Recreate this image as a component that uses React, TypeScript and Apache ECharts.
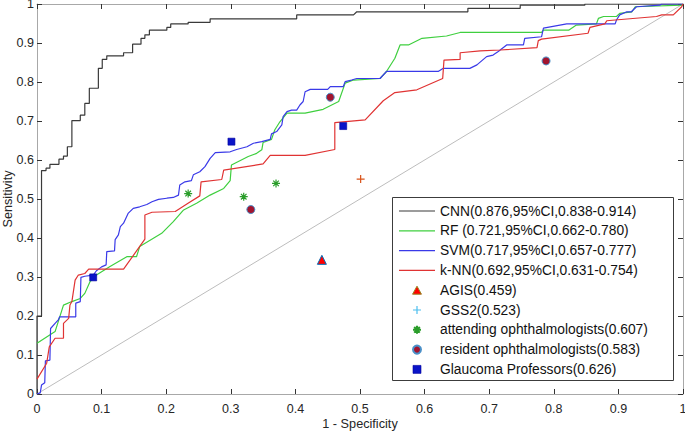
import React, { useEffect, useRef } from "react";
import * as echarts from "echarts";

const FONT = "'Liberation Sans', Arial, Helvetica, sans-serif";

const seriesNames = [
  "CNN(0.876,95%CI,0.838-0.914)",
  "RF (0.721,95%CI,0.662-0.780)",
  "SVM(0.717,95%CI,0.657-0.777)",
  "k-NN(0.692,95%CI,0.631-0.754)",
  "AGIS(0.459)",
  "GSS2(0.523)",
  "attending ophthalmologists(0.607)",
  "resident ophthalmologists(0.583)",
  "Glaucoma Professors(0.626)",
];

const cnnRoc = [
  [0, 0], [0, 0.2], [0.007, 0.2], [0.007, 0.573], [0.014, 0.573], [0.014, 0.579], [0.02, 0.579],
  [0.02, 0.589], [0.034, 0.589], [0.034, 0.602], [0.041, 0.602], [0.041, 0.61], [0.047, 0.61],
  [0.047, 0.634], [0.054, 0.634], [0.054, 0.701], [0.067, 0.701], [0.067, 0.715], [0.074, 0.715],
  [0.074, 0.745], [0.081, 0.745], [0.081, 0.784], [0.095, 0.784], [0.095, 0.835], [0.101, 0.835],
  [0.101, 0.858], [0.108, 0.858], [0.108, 0.867], [0.134, 0.867], [0.134, 0.875], [0.148, 0.875],
  [0.148, 0.897], [0.161, 0.897], [0.161, 0.912], [0.167, 0.912], [0.167, 0.921], [0.174, 0.921],
  [0.174, 0.933], [0.201, 0.933], [0.201, 0.94], [0.207, 0.94], [0.207, 0.949], [0.234, 0.949],
  [0.234, 0.953], [0.268, 0.953], [0.268, 0.962], [0.402, 0.962], [0.402, 0.972], [0.49, 0.972],
  [0.495, 0.98], [0.667, 0.98], [0.667, 0.989], [0.748, 0.989], [0.748, 0.997], [0.848, 0.997],
  [0.848, 1], [1, 1],
];

const rfRoc = [
  [0, 0.13], [0.028, 0.16], [0.041, 0.228], [0.054, 0.237], [0.067, 0.245], [0.074, 0.258],
  [0.082, 0.288], [0.092, 0.305], [0.113, 0.327], [0.139, 0.352], [0.154, 0.352], [0.159, 0.378],
  [0.193, 0.412], [0.211, 0.442], [0.227, 0.472], [0.247, 0.489], [0.268, 0.51], [0.289, 0.527],
  [0.299, 0.547], [0.301, 0.587], [0.327, 0.609], [0.34, 0.617], [0.348, 0.626], [0.35, 0.645],
  [0.363, 0.653], [0.368, 0.677], [0.376, 0.698], [0.387, 0.72], [0.415, 0.72], [0.443, 0.73],
  [0.467, 0.75], [0.477, 0.797], [0.49, 0.805], [0.531, 0.809], [0.541, 0.827], [0.554, 0.861],
  [0.562, 0.895], [0.575, 0.895], [0.596, 0.912], [0.634, 0.918], [0.655, 0.927], [0.781, 0.927],
  [0.784, 0.933], [0.823, 0.933], [0.835, 0.946], [0.866, 0.949], [0.869, 0.963], [0.877, 0.968],
  [0.897, 0.968], [0.902, 0.976], [0.921, 0.98], [0.926, 0.993], [0.998, 0.997], [1, 1],
];

const svmRoc = [
  [0, 0], [0.005, 0.003], [0.007, 0.023], [0.012, 0.029], [0.013, 0.085], [0.02, 0.087],
  [0.021, 0.168], [0.028, 0.181], [0.033, 0.19], [0.035, 0.198], [0.06, 0.198], [0.06, 0.233],
  [0.067, 0.237], [0.068, 0.299], [0.074, 0.302], [0.087, 0.305], [0.092, 0.316], [0.1, 0.326],
  [0.107, 0.331], [0.108, 0.365], [0.12, 0.367], [0.121, 0.396], [0.126, 0.408], [0.129, 0.429],
  [0.134, 0.438], [0.141, 0.463], [0.149, 0.476], [0.159, 0.48], [0.17, 0.486], [0.178, 0.493],
  [0.188, 0.499], [0.201, 0.502], [0.211, 0.504], [0.219, 0.51], [0.221, 0.536], [0.229, 0.544],
  [0.239, 0.547], [0.242, 0.562], [0.252, 0.57], [0.26, 0.583], [0.268, 0.604], [0.276, 0.619],
  [0.299, 0.621], [0.309, 0.627], [0.325, 0.634], [0.335, 0.643], [0.348, 0.647], [0.361, 0.653],
  [0.363, 0.667], [0.371, 0.673], [0.379, 0.69], [0.381, 0.711], [0.387, 0.724], [0.394, 0.728],
  [0.402, 0.728], [0.407, 0.741], [0.412, 0.75], [0.415, 0.775], [0.423, 0.781], [0.45, 0.781],
  [0.454, 0.788], [0.474, 0.788], [0.477, 0.801], [0.487, 0.805], [0.495, 0.809], [0.531, 0.809],
  [0.541, 0.827], [0.621, 0.827], [0.629, 0.835], [0.67, 0.835], [0.681, 0.844], [0.696, 0.865],
  [0.706, 0.869], [0.714, 0.878], [0.727, 0.895], [0.753, 0.895], [0.755, 0.912], [0.781, 0.916],
  [0.784, 0.938], [0.82, 0.949], [0.895, 0.949], [0.897, 0.959], [0.902, 0.972], [0.913, 0.98],
  [0.92, 0.98], [0.928, 0.993], [0.964, 0.997], [0.967, 1], [1, 1],
];

const knnRoc = [
  [0, 0.038], [0.015, 0.079], [0.019, 0.121], [0.028, 0.143], [0.041, 0.143], [0.041, 0.181],
  [0.049, 0.194], [0.051, 0.228], [0.054, 0.237], [0.059, 0.292], [0.064, 0.305], [0.074, 0.309],
  [0.08, 0.32], [0.134, 0.32], [0.167, 0.397], [0.167, 0.459], [0.178, 0.466], [0.214, 0.468],
  [0.232, 0.487], [0.252, 0.508], [0.254, 0.544], [0.286, 0.55], [0.289, 0.574], [0.35, 0.59],
  [0.361, 0.612], [0.415, 0.612], [0.461, 0.627], [0.461, 0.696], [0.508, 0.703], [0.536, 0.752],
  [0.554, 0.773], [0.588, 0.78], [0.628, 0.809], [0.63, 0.856], [0.655, 0.858], [0.655, 0.875],
  [0.686, 0.88], [0.717, 0.882], [0.774, 0.888], [0.776, 0.906], [0.781, 0.91], [0.853, 0.925],
  [0.856, 0.94], [0.879, 0.949], [0.882, 0.957], [0.895, 0.959], [0.959, 0.968], [0.967, 0.972],
  [0.985, 0.972], [0.998, 0.993], [1, 1],
];

const chanceLine = [[0, 0], [1, 1]];

const agisPoints = [[0.441, 0.344]];
const gss2Points = [[0.501, 0.551]];
const attendingPoints = [[0.234, 0.514], [0.32, 0.506], [0.37, 0.54]];
const residentPoints = [[0.331, 0.473], [0.454, 0.761], [0.788, 0.854]];
const professorPoints = [[0.087, 0.299], [0.301, 0.647], [0.474, 0.687]];

const PLUS = "path://M0,5H10M5,0V10";
const ASTERISK = "path://M0,5H10M5,0V10M1.5,1.5L8.5,8.5M1.5,8.5L8.5,1.5";
const TRIANGLE = "path://M5,0L10,9H0Z";
const SQUARE = "path://M0,0H10V10H0Z";
const LINE_ICON = "path://M0,0H36V1.2H0Z";

export default function App() {
  const ref = useRef<HTMLDivElement>(null);

  useEffect(() => {
    if (!ref.current) return;
    const chart = echarts.init(ref.current, undefined, { renderer: "svg" });

    const axisCommon = {
      type: "value",
      min: 0,
      max: 1,
      interval: 0.1,
      splitLine: { show: false },
      axisLine: { show: true, onZero: false, lineStyle: { color: "#a8a8a8", width: 1 } },
      axisTick: { show: true, inside: true, length: 5, lineStyle: { color: "#333", width: 1 } },
    };

    const lineSeries = (name: string, data: number[][], color: string) => ({
      name,
      type: "line",
      data,
      symbol: "none",
      showSymbol: false,
      lineStyle: { color, width: 1.2 },
      itemStyle: { color },
      silent: true,
      z: 3,
    });

    const option = {
      animation: false,
      backgroundColor: "#fff",
      textStyle: { fontFamily: FONT },
      grid: { left: 37, right: 2, top: 4, bottom: 38, containLabel: false, outerBoundsMode: "none" },
      xAxis: [
        {
          ...axisCommon,
          position: "bottom",
          name: "1 - Specificity",
          nameLocation: "middle",
          nameGap: 23,
          nameMoveOverlap: false,
          nameTextStyle: { fontSize: 12.7, color: "#262626", fontFamily: FONT },
          axisLabel: { show: true, fontSize: 12.5, color: "#262626", margin: 8, fontFamily: FONT },
        },
        {
          ...axisCommon,
          position: "top",
          axisLabel: { show: false },
        },
      ],
      yAxis: [
        {
          ...axisCommon,
          position: "left",
          name: "Sensitivity",
          nameLocation: "middle",
          nameGap: 23,
          nameMoveOverlap: false,
          nameTextStyle: { fontSize: 12.7, color: "#262626", fontFamily: FONT },
          axisLabel: { show: true, fontSize: 12.5, color: "#262626", margin: 3, fontFamily: FONT },
        },
        {
          ...axisCommon,
          position: "right",
          axisLabel: { show: false },
        },
      ],
      graphic: [
        {
          type: "rect",
          z: 0,
          shape: { x: 392.5, y: 197.5, width: 281, height: 183 },
          style: { fill: "#fff", stroke: "#3c3c3c", lineWidth: 1 },
        },
      ],
      legend: {
        show: true,
        orient: "vertical",
        left: 399,
        top: 204,
        padding: 0,
        itemWidth: 36,
        itemHeight: 8,
        itemGap: 5.8,
        selectedMode: false,
        symbolKeepAspect: true,
        z: 10,
        textStyle: { fontSize: 13.8, color: "#111", fontFamily: FONT, lineHeight: 14 },
        data: [
          { name: seriesNames[0], icon: LINE_ICON, itemStyle: { color: "#3a3a3a", borderWidth: 0 } },
          { name: seriesNames[1], icon: LINE_ICON, itemStyle: { color: "#3fcf3f", borderWidth: 0 } },
          { name: seriesNames[2], icon: LINE_ICON, itemStyle: { color: "#3a3ae8", borderWidth: 0 } },
          { name: seriesNames[3], icon: LINE_ICON, itemStyle: { color: "#e03333", borderWidth: 0 } },
          { name: seriesNames[4], icon: TRIANGLE, itemStyle: { color: "#ff0000", borderColor: "#9a8420", borderWidth: 1 } },
          { name: seriesNames[5], itemStyle: { color: "#4DBEEE", borderColor: "#4DBEEE", borderWidth: 1.2 } },
          seriesNames[6],
          seriesNames[7],
          { name: seriesNames[8], icon: SQUARE, itemStyle: { color: "#0a14c8", borderColor: "#0000a0", borderWidth: 0.6 } },
        ],
      },
      series: [
        {
          name: "chance",
          type: "line",
          data: chanceLine,
          symbol: "none",
          lineStyle: { color: "#bdbdbd", width: 1 },
          itemStyle: { color: "#bdbdbd" },
          silent: true,
          z: 2,
        },
        lineSeries(seriesNames[0], cnnRoc, "#3a3a3a"),
        lineSeries(seriesNames[1], rfRoc, "#3fcf3f"),
        lineSeries(seriesNames[2], svmRoc, "#3a3ae8"),
        lineSeries(seriesNames[3], knnRoc, "#e03333"),
        {
          name: seriesNames[4],
          type: "scatter",
          data: agisPoints,
          symbol: TRIANGLE,
          symbolSize: 9,
          itemStyle: { color: "#ff0000", borderColor: "#0072BD", borderWidth: 1, opacity: 1 },
          z: 5,
        },
        {
          name: seriesNames[5],
          type: "scatter",
          data: gss2Points,
          symbol: PLUS,
          symbolSize: 8,
          itemStyle: { color: "#D95319", borderColor: "#D95319", borderWidth: 1.2, opacity: 1 },
          z: 5,
        },
        {
          name: seriesNames[6],
          type: "scatter",
          data: attendingPoints,
          symbol: ASTERISK,
          symbolSize: 8,
          itemStyle: { color: "#2a9d2a", borderColor: "#2a9d2a", borderWidth: 1.2, opacity: 1 },
          z: 5,
        },
        {
          name: seriesNames[7],
          type: "scatter",
          data: residentPoints,
          symbol: "circle",
          symbolSize: 8,
          itemStyle: { color: "#A2142F", borderColor: "#4a90c8", borderWidth: 1, opacity: 1 },
          z: 5,
        },
        {
          name: seriesNames[8],
          type: "scatter",
          data: professorPoints,
          symbol: SQUARE,
          symbolSize: 7,
          itemStyle: { color: "#0a14c8", borderColor: "#0000a0", borderWidth: 0.6, opacity: 1 },
          z: 5,
        },
      ],
    };

    chart.setOption(option as any);
    return () => {
      chart.dispose();
    };
  }, []);

  return (
    <div
      ref={ref}
      style={{ position: "fixed", left: 0, top: 0, width: 685, height: 432, background: "#fff" }}
    />
  );
}
